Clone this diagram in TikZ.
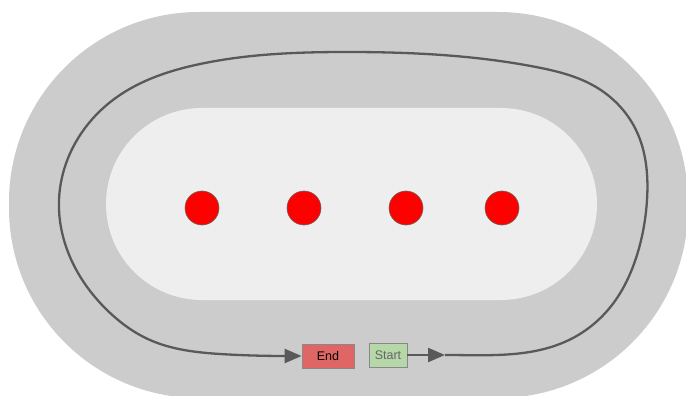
\documentclass[tikz,border=0pt]{standalone}
\usepackage{fontspec}
\setmainfont{Liberation Sans}
\usetikzlibrary{arrows.meta,hobby}
\definecolor{trackouter}{HTML}{CCCCCC}
\definecolor{trackinner}{HTML}{EEEEEE}
\definecolor{pathgray}{HTML}{595959}
\definecolor{endred}{HTML}{E06666}
\definecolor{startgreen}{HTML}{B6D7A8}
\definecolor{boxborder}{HTML}{888888}
\tikzset{
  marker/.style={circle, fill=red, draw=gray!80!black, line width=0.6pt, minimum size=34pt, inner sep=0pt},
  tag/.style={draw=boxborder, line width=0.8pt, inner sep=0pt, font=\fontsize{12.5}{14}\selectfont},
  route/.style={draw=pathgray, line width=2.3pt},
  routetip/.style={-{Triangle[length=17pt, width=14pt]}}
}
\begin{document}
\begin{tikzpicture}[x=1pt, y=-1pt]
  \useasboundingbox (0,0) rectangle (686,396);
  \fill[white] (0,0) rectangle (686,396);
  \begin{scope}
    \clip (0,0) rectangle (686,396);
    % outer track and infield
    \fill[trackouter, rounded corners=190pt] (9,12) rectangle (688,398);
    \fill[trackinner, rounded corners=96pt] (106,108) rectangle (597,300);
  \end{scope}

  % markers in the infield
  \node[marker] (m1) at (202,208) {};
  \node[marker] (m2) at (304,208) {};
  \node[marker] (m3) at (406,208) {};
  \node[marker] (m4) at (502,208) {};

  % start and end tags
  \node[tag, fill=endred, minimum width=52pt, minimum height=24pt] (finish) at (328,356) {End};
  \node[tag, fill=startgreen, text=black!60, minimum width=38pt, minimum height=24pt] (start) at (388,355) {Start};

  % route around the track
  \coordinate (lapmid) at (445,355);
  \draw[route, routetip] (start.east) -- (lapmid);
  \draw[route, routetip, use Hobby shortcut]
    ([out angle=0]lapmid) .. (569,340) .. (612,305) .. (637,255) .. (647,200)
    .. (636,130) .. (596,87) .. (536,67) .. (347,52) .. (200,64) .. (117,97)
    .. (77,140) .. (59,200) .. (70,257) .. (107,310) .. (150,340) .. (220,354)
    .. ([in angle=180]finish.west);
\end{tikzpicture}
\end{document}
